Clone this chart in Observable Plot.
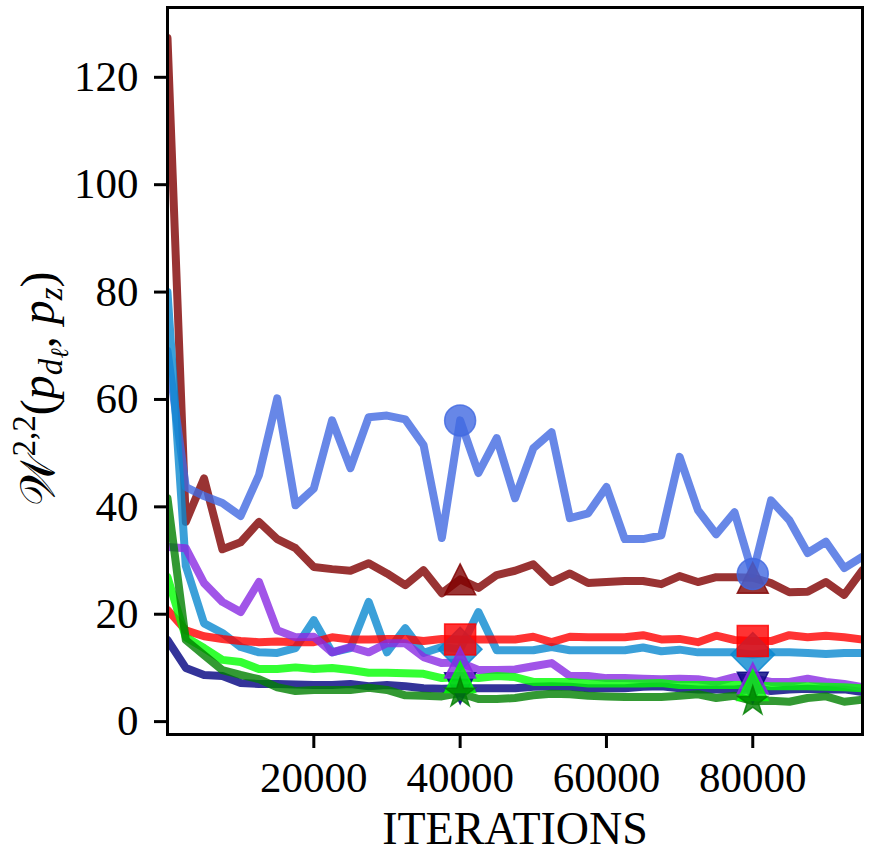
<!DOCTYPE html>
<html><head><meta charset="utf-8">
<script src="https://cdn.jsdelivr.net/npm/d3@7"></script>
<script src="https://cdn.jsdelivr.net/npm/@observablehq/plot@0.6"></script>
<style>body{margin:0;background:#fff} #chart svg{display:block}</style>
</head><body><div id="chart"></div>
<script>
const iterations = [0,2500,5000,7500,10000,12500,15000,17500,20000,22500,25000,27500,30000,32500,35000,37500,40000,42500,45000,47500,50000,52500,55000,57500,60000,62500,65000,67500,70000,72500,75000,77500,80000,82500,85000,87500,90000,92500,95000];
const royalblueSeries = [69,43.7,42,40.7,38.3,45.9,60.2,40.3,43.4,56.1,47.2,56.7,57,56.3,51.5,34.2,56.1,46.3,52.8,41.6,50.9,53.9,37.9,38.8,43.7,34.0,34.0,34.7,49.3,39.4,34.9,39.0,27.5,41.2,37.5,31.4,33.5,28.6,30.7];
const maroonSeries = [127.3,37.2,45.3,32.1,33.4,37.2,34.0,32.3,28.8,28.4,28.1,29.5,27.6,25.4,28.2,23.9,26.5,24.9,27.3,28.1,29.3,26.0,27.6,25.8,26.0,26.2,26.2,25.6,27.1,26.0,26.9,26.9,26.8,25.8,24.1,24.2,26.0,23.6,28.2];
const redSeries = [20.8,17.0,15.9,15.4,15.0,14.8,14.9,14.8,14.8,15.7,15.3,15.3,15.4,15.4,15.0,15.4,15.3,15.3,15.3,15.3,15.8,14.8,15.8,15.7,15.7,15.7,16.1,15.3,15.4,14.8,16.0,15.2,15.0,15.0,16.1,15.7,16.0,15.7,15.3];
const lightblueSeries = [80,29,18.3,16.5,13.9,12.9,12.8,13.7,18.9,12.9,13.7,22.3,12.9,17.4,12.8,13.9,13.5,20.4,13.3,13.3,13.3,13.9,13.3,13.3,13.3,13.3,13.8,13.1,13.4,12.9,12.9,12.9,12.5,12.9,12.9,12.8,12.6,12.8,12.8];
const purpleSeries = [32.5,32.3,25.8,22.3,20.4,26.0,17.0,15.7,15.8,12.9,13.9,12.9,14.6,14.6,12.0,10.9,11.0,9.6,9.6,9.7,10.3,10.9,8.5,8.5,8.1,8.1,8.0,7.9,8.0,7.9,7.4,8.3,8.1,7.4,7.4,8.0,7.4,7.0,6.4];
const limeSeries = [26.9,15.7,13.7,11.5,11.1,9.8,9.8,10.1,9.8,10.0,9.6,9.1,9.1,9.0,8.9,8.1,8.3,8.1,8.5,8.3,7.4,7.4,7.4,7.1,7.1,7.1,7.1,7.2,6.8,6.8,6.8,6.8,6.8,6.6,6.6,6.6,6.5,6.4,6.2];
const navySeries = [15.2,10.0,8.7,8.5,7.2,7.0,7.0,6.9,6.8,6.8,7.0,6.6,6.8,6.6,6.2,6.1,6.2,6.2,6.2,6.2,6.5,6.6,6.5,6.2,6.2,6.2,6.5,6.6,6.2,6.0,6.0,6.0,6.3,5.7,6.0,6.1,6.0,6.0,5.5];
const greenSeries = [41.6,15.2,12.4,9.6,8.7,7.9,6.4,5.7,5.9,5.9,5.9,6.3,5.9,4.9,4.8,4.7,5.3,4.2,4.2,4.4,4.9,5.2,5.1,4.8,4.7,4.6,4.6,4.6,4.8,5.1,4.4,4.8,3.8,3.9,3.7,4.4,4.7,3.7,4.1];
const markerIterations = [40000, 80000];
const xTicks = [20000, 40000, 60000, 80000];
const yTicks = [0, 20, 40, 60, 80, 100, 120];

// custom marker shapes (matplotlib-like)
const rOf = s => Math.sqrt(s / Math.PI);
const triUp = {draw(c, s){const r=rOf(s); c.moveTo(0,-r); c.lineTo(r,r); c.lineTo(-r,r); c.closePath();}};
const triDown = {draw(c, s){const r=rOf(s); c.moveTo(0,r); c.lineTo(r,-r); c.lineTo(-r,-r); c.closePath();}};
const square = {draw(c, s){const r=rOf(s); c.moveTo(-r,-r); c.lineTo(r,-r); c.lineTo(r,r); c.lineTo(-r,r); c.closePath();}};
const diamond = {draw(c, s){const r=rOf(s)*1.414; c.moveTo(0,-r); c.lineTo(r,0); c.lineTo(0,r); c.lineTo(-r,0); c.closePath();}};
const star = {draw(c, s){const R=rOf(s), ri=R*0.381966; for(let k=0;k<10;k++){const a=-Math.PI/2+k*Math.PI/5, rr=k%2?ri:R; const px=rr*Math.cos(a), py=rr*Math.sin(a); k?c.lineTo(px,py):c.moveTo(px,py);} c.closePath();}};
const circle = "circle";

const series = [
  {values: maroonSeries, color: "#800000", symbol: triUp},
  {values: royalblueSeries, color: "#4169e1", symbol: circle},
  {values: lightblueSeries, color: "#0a88cf", symbol: diamond},
  {values: redSeries, color: "#ff0000", symbol: square},
  {values: navySeries, color: "#000080", symbol: triDown},
  {values: purpleSeries, color: "#8a2be2", symbol: triUp},
  {values: limeSeries, color: "#00ff00", symbol: triUp},
  {values: greenSeries, color: "#008000", symbol: star}
];

const lines = series.map(s => Plot.line(iterations, {x: iterations, y: s.values, stroke: s.color, strokeOpacity: 0.8, strokeWidth: 8, clip: true}));
const dots = series.map(s => {
  const ys = markerIterations.map(m => s.values[iterations.indexOf(m)]);
  return Plot.dot(markerIterations, {x: markerIterations, y: ys, r: 15.5, symbol: s.symbol, fill: s.color, fillOpacity: 0.8, stroke: s.color, strokeOpacity: 0.8, strokeWidth: 1.5});
});

const plot = Plot.plot({
  width: 871, height: 853,
  marginLeft: 167, marginRight: 9, marginTop: 7, marginBottom: 119,
  x: {domain: [0, 95000]},
  y: {domain: [-2.4, 133]},
  style: {fontFamily: "Liberation Serif", background: "white", color: "black"},
  marks: [
    ...lines,
    ...dots,
    Plot.frame({stroke: "black", strokeWidth: 3}),
    Plot.axisX({ticks: xTicks, tickFormat: d3.format("d"), tickSize: 14, tickPadding: 13, fontSize: 43, strokeWidth: 3, label: null}),
    Plot.axisY({ticks: yTicks, tickSize: 13, tickPadding: 16, fontSize: 43, strokeWidth: 3, label: null}),
    Plot.text(["ITERATIONS"], {frameAnchor: "bottom", dy: 109, lineAnchor: "bottom", fontSize: 46, text: d => d})
  ]
});
document.getElementById("chart").appendChild(plot);

// y-axis label with super/subscripts
const t = d3.select(plot).append("text")
  .attr("transform", "translate(54,389) rotate(-90)")
  .attr("text-anchor", "middle")
  .attr("font-family", "Liberation Serif")
  .attr("font-size", 48)
  .attr("fill", "black");
t.append("tspan").text("𝒲");
t.append("tspan").attr("font-size", 33).attr("dy", -19).text("2,2");
t.append("tspan").attr("dy", 19).text("(");
t.append("tspan").attr("font-style", "italic").text("p");
t.append("tspan").attr("font-size", 33).attr("font-style", "italic").attr("dy", 8).text("d");
t.append("tspan").attr("font-size", 25).attr("font-style", "italic").attr("dy", 6).text("ℓ");
t.append("tspan").attr("dy", -14).text(", ");
t.append("tspan").attr("font-style", "italic").text("p");
t.append("tspan").attr("font-size", 33).attr("font-style", "italic").attr("dy", 8).text("z");
t.append("tspan").attr("dy", -8).text(")");
</script>
</body></html>
